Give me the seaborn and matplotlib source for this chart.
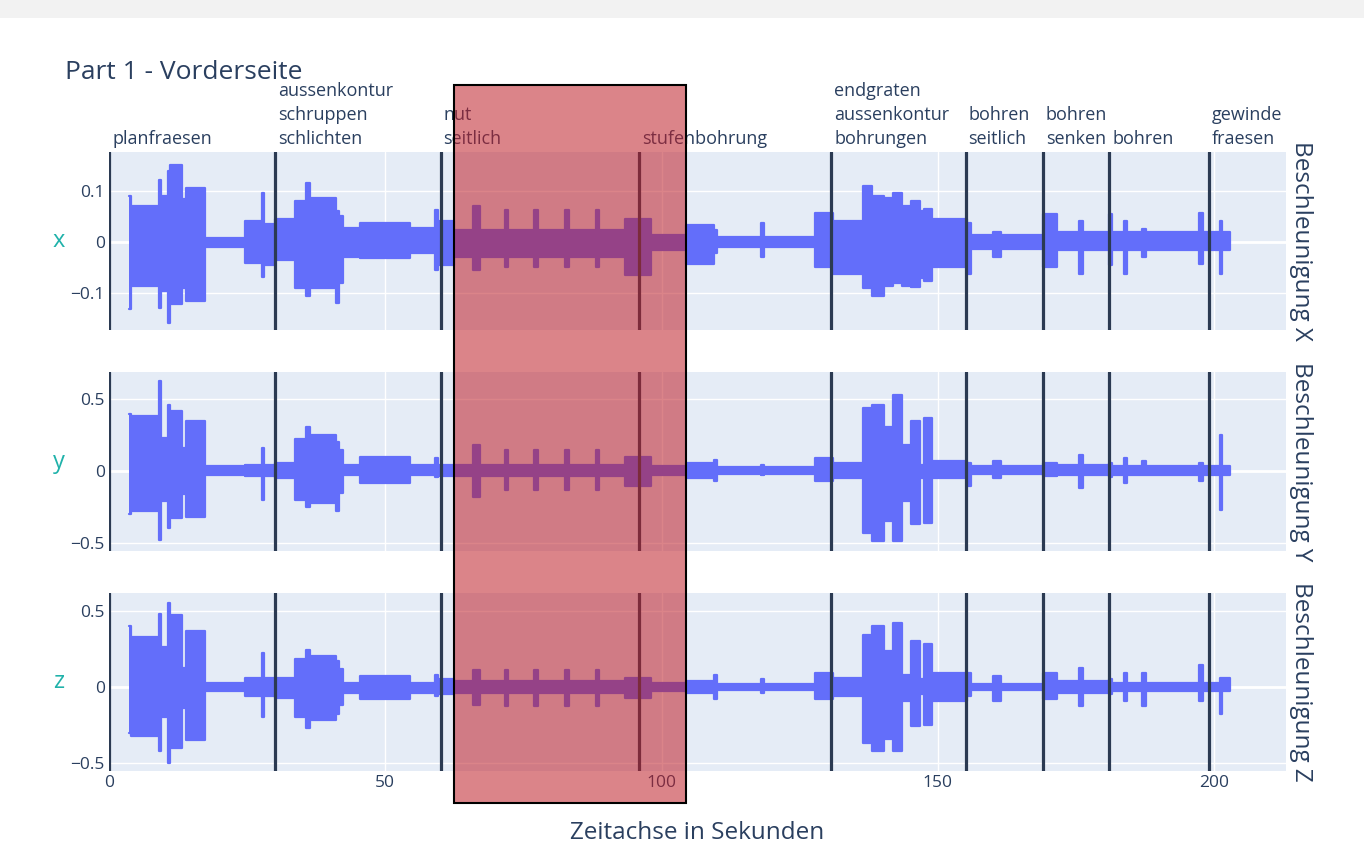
import numpy as np
import pandas as pd
import matplotlib.pyplot as plt
import matplotlib.transforms as mtransforms
from matplotlib.patches import Rectangle
import seaborn as sns

# envelope of the acceleration signal
# every value holds from its knot time until the next knot
t_knots = [3.6, 3.9, 9.0, 9.4, 10.6, 11.0, 13.3, 14.0, 17.4, 24.7,
           27.6, 28.0, 30.0, 33.7, 35.6, 36.4, 41.0, 41.6, 42.4, 45.5,
           54.5, 59.0, 59.6, 62.5, 65.8, 67.2, 71.6, 72.2, 77.0, 77.6,
           82.6, 83.2, 88.1, 88.7, 93.3, 98.0, 104.5, 109.5, 110.1, 118.0,
           118.5, 127.8, 131.0, 136.5, 138.0, 140.3, 141.8, 143.5, 145.2, 146.8,
           147.5, 149.0, 155.2, 156.0, 160.0, 161.5, 169.0, 171.5, 175.6, 176.2,
           181.0, 181.6, 183.6, 184.2, 187.0, 187.6, 197.2, 198.0, 201.0, 201.4,
           202.8]

x_hi = [0.09, 0.07, 0.12, 0.09, 0.138, 0.15, 0.083, 0.105, 0.007, 0.04,
        0.096, 0.035, 0.045, 0.08, 0.115, 0.085, 0.06, 0.05, 0.027, 0.037,
        0.027, 0.063, 0.04, 0.024, 0.07, 0.024, 0.063, 0.024, 0.063, 0.024,
        0.063, 0.024, 0.063, 0.024, 0.045, 0.014, 0.034, 0.024, 0.009, 0.037,
        0.009, 0.057, 0.04, 0.109, 0.09, 0.085, 0.095, 0.07, 0.08, 0.06,
        0.065, 0.045, 0.037, 0.013, 0.02, 0.013, 0.055, 0.02, 0.04, 0.02,
        0.055, 0.02, 0.04, 0.02, 0.025, 0.02, 0.057, 0.02, 0.04, 0.02, 0]
x_lo = [-0.13, -0.085, -0.128, -0.095, -0.157, -0.12, -0.09, -0.115, -0.009, -0.04,
        -0.068, -0.045, -0.035, -0.09, -0.105, -0.09, -0.118, -0.08, -0.029, -0.032,
        -0.022, -0.055, -0.045, -0.029, -0.055, -0.029, -0.049, -0.029, -0.049, -0.029,
        -0.049, -0.029, -0.049, -0.029, -0.065, -0.016, -0.042, -0.022, -0.009, -0.029,
        -0.009, -0.049, -0.062, -0.09, -0.105, -0.085, -0.08, -0.085, -0.088, -0.07,
        -0.075, -0.049, -0.062, -0.013, -0.03, -0.013, -0.049, -0.016, -0.062, -0.016,
        -0.045, -0.016, -0.062, -0.016, -0.03, -0.016, -0.042, -0.016, -0.062, -0.016, 0]

y_hi = [0.40, 0.38, 0.625, 0.23, 0.46, 0.42, 0.16, 0.35, 0.033, 0.044,
        0.16, 0.044, 0.056, 0.22, 0.31, 0.25, 0.20, 0.15, 0.044, 0.095,
        0.044, 0.09, 0.044, 0.044, 0.18, 0.044, 0.15, 0.044, 0.15, 0.044,
        0.15, 0.044, 0.15, 0.044, 0.10, 0.033, 0.056, 0.08, 0.026, 0.04,
        0.026, 0.09, 0.056, 0.44, 0.46, 0.31, 0.53, 0.18, 0.35, 0.044,
        0.37, 0.067, 0.056, 0.033, 0.067, 0.033, 0.056, 0.044, 0.11, 0.044,
        0.056, 0.033, 0.09, 0.033, 0.067, 0.033, 0.056, 0.033, 0.25, 0.033, 0]
y_lo = [-0.30, -0.28, -0.48, -0.21, -0.40, -0.33, -0.16, -0.32, -0.026, -0.037,
        -0.20, -0.037, -0.05, -0.20, -0.25, -0.22, -0.28, -0.15, -0.026, -0.084,
        -0.026, -0.04, -0.037, -0.037, -0.18, -0.037, -0.13, -0.037, -0.13, -0.037,
        -0.13, -0.037, -0.13, -0.037, -0.107, -0.026, -0.05, -0.072, -0.021, -0.03,
        -0.021, -0.072, -0.05, -0.43, -0.49, -0.35, -0.49, -0.21, -0.37, -0.05,
        -0.36, -0.05, -0.107, -0.021, -0.05, -0.021, -0.037, -0.026, -0.12, -0.026,
        -0.04, -0.026, -0.084, -0.026, -0.03, -0.026, -0.072, -0.026, -0.27, -0.026, 0]

z_hi = [0.40, 0.33, 0.48, 0.26, 0.55, 0.47, 0.125, 0.37, 0.026, 0.06,
        0.22, 0.06, 0.06, 0.18, 0.245, 0.20, 0.17, 0.12, 0.026, 0.07,
        0.026, 0.08, 0.05, 0.037, 0.114, 0.037, 0.114, 0.037, 0.114, 0.037,
        0.114, 0.037, 0.114, 0.037, 0.06, 0.026, 0.037, 0.08, 0.02, 0.05,
        0.02, 0.092, 0.06, 0.34, 0.40, 0.235, 0.42, 0.08, 0.30, 0.05,
        0.28, 0.09, 0.092, 0.02, 0.07, 0.02, 0.09, 0.037, 0.125, 0.037,
        0.05, 0.026, 0.09, 0.026, 0.09, 0.026, 0.147, 0.026, 0.06, 0.06, 0]
z_lo = [-0.30, -0.32, -0.42, -0.20, -0.50, -0.40, -0.14, -0.35, -0.024, -0.06,
        -0.20, -0.06, -0.07, -0.20, -0.27, -0.22, -0.18, -0.12, -0.04, -0.083,
        -0.04, -0.06, -0.05, -0.04, -0.116, -0.04, -0.127, -0.04, -0.127, -0.04,
        -0.127, -0.04, -0.127, -0.04, -0.07, -0.03, -0.04, -0.083, -0.018, -0.04,
        -0.018, -0.083, -0.06, -0.37, -0.42, -0.34, -0.42, -0.09, -0.26, -0.05,
        -0.25, -0.094, -0.06, -0.018, -0.094, -0.018, -0.083, -0.04, -0.127, -0.04,
        -0.05, -0.024, -0.094, -0.024, -0.127, -0.024, -0.094, -0.024, -0.18, -0.03, 0]

# machining steps (start time in s) and their labels
step_start = [0, 30, 60, 96, 130.7, 155, 169, 181, 199]
step_label = ["planfraesen", "aussenkontur\nschruppen\nschlichten", "nut\nseitlich",
              "stufenbohrung", "endgraten\naussenkontur\nbohrungen", "bohren\nseitlich",
              "bohren\nsenken", "bohren", "gewinde\nfraesen"]

channels = ["x", "y", "z"]
right_titles = ["Beschleunigung X", "Beschleunigung Y", "Beschleunigung Z"]
y_ticks = [[-0.1, 0, 0.1], [-0.5, 0, 0.5], [-0.5, 0, 0.5]]
y_ticklabels = [["\u22120.1", "0", "0.1"], ["\u22120.5", "0", "0.5"], ["\u22120.5", "0", "0.5"]]
y_limits = [(-0.171, 0.175), (-0.557, 0.69), (-0.553, 0.617)]
x_ticks = [0, 50, 100, 150, 200]

# marked region (red box)
mark_start, mark_end = 62.4, 104.4

sns.set_theme(style="darkgrid", rc={"axes.facecolor": "#E5ECF6", "grid.color": "white",
                                    "grid.linewidth": 1.0, "figure.facecolor": "white"})
plt.rcParams["font.family"] = ["Open Sans", "DejaVu Sans"]

TXT = "#2a3f5f"
SIG = "#636efa"
LINE = "#2b3a52"

fig = plt.figure(figsize=(13.64, 8.6), dpi=100)
W, H = 1364, 860
left, right = 109, 1286
rows_px = [(152, 330), (372, 551), (593, 771)]

envelopes = [(x_hi, x_lo), (y_hi, y_lo), (z_hi, z_lo)]
axes = []
for i, (top, bot) in enumerate(rows_px):
    ax = fig.add_axes([left / W, 1 - bot / H, (right - left) / W, (bot - top) / H])
    axes.append(ax)
    hi, lo = envelopes[i]
    df = pd.DataFrame({"t": t_knots, "hi": hi, "lo": lo})
    ax.fill_between(df["t"], df["lo"], df["hi"], step="post", color=SIG, lw=0, zorder=2)
    sns.lineplot(data=df, x="t", y="hi", ax=ax, color=SIG, lw=1.6, drawstyle="steps-post",
                 estimator=None, zorder=2)
    sns.lineplot(data=df, x="t", y="lo", ax=ax, color=SIG, lw=1.6, drawstyle="steps-post",
                 estimator=None, zorder=2)
    ax.axhline(0, color="white", lw=2, zorder=1)
    for s in step_start:
        ax.axvline(s, color=LINE, lw=2.3, zorder=3)
    ax.set_xlim(0, 213)
    ax.set_ylim(*y_limits[i])
    ax.set_yticks(y_ticks[i])
    ax.set_yticklabels(y_ticklabels[i])
    ax.set_xticks(x_ticks)
    ax.set_xlabel("")
    ax.set_ylabel("")
    ax.tick_params(axis="both", length=0, pad=3, labelsize=12.5, labelcolor=TXT)
    if i < 2:
        ax.set_xticklabels([])
    ax.grid(True, axis="both", zorder=0)
    for sp in ax.spines.values():
        sp.set_visible(False)
    ax.text(-0.043, 0.5, channels[i], transform=ax.transAxes, ha="center", va="center",
            fontsize=17, color="#20B2AA")
    ax.text(1.0128, 0.5, right_titles[i], transform=ax.transAxes, ha="center", va="center",
            rotation=-90, fontsize=17.5, color=TXT)

# step labels above first row
lab_tr = mtransforms.blended_transform_factory(axes[0].transData, axes[0].transAxes)
for s, lab in zip(step_start, step_label):
    axes[0].text(s + 0.55, 1.02, lab, transform=lab_tr, ha="left", va="bottom",
                 fontsize=13, color=TXT, linespacing=1.45, multialignment="left", zorder=4)

fig.text(65 / W, 1 - 79 / H, "Part 1 - Vorderseite", fontsize=19, color=TXT,
         ha="left", va="baseline")
fig.text((left + right) / 2 / W, 1 - 833 / H, "Zeitachse in Sekunden", fontsize=17.5,
         color=TXT, ha="center", va="center")

# red marking box over all rows
box_tr = mtransforms.blended_transform_factory(axes[2].transData, fig.transFigure)
fig.patches.append(Rectangle((mark_start, 1 - 803 / H), mark_end - mark_start,
                             (803 - 85) / H, transform=box_tr, facecolor=(0.75, 0.12, 0.16, 0.55),
                             edgecolor="black", lw=1.5, zorder=10))

# light strip of the surrounding window at the top
fig.patches.append(Rectangle((0, 1 - 18 / H), 1, 18 / H, transform=fig.transFigure,
                             facecolor="#f2f2f2", edgecolor="none", zorder=0))

fig.savefig("out.png", dpi=100)
